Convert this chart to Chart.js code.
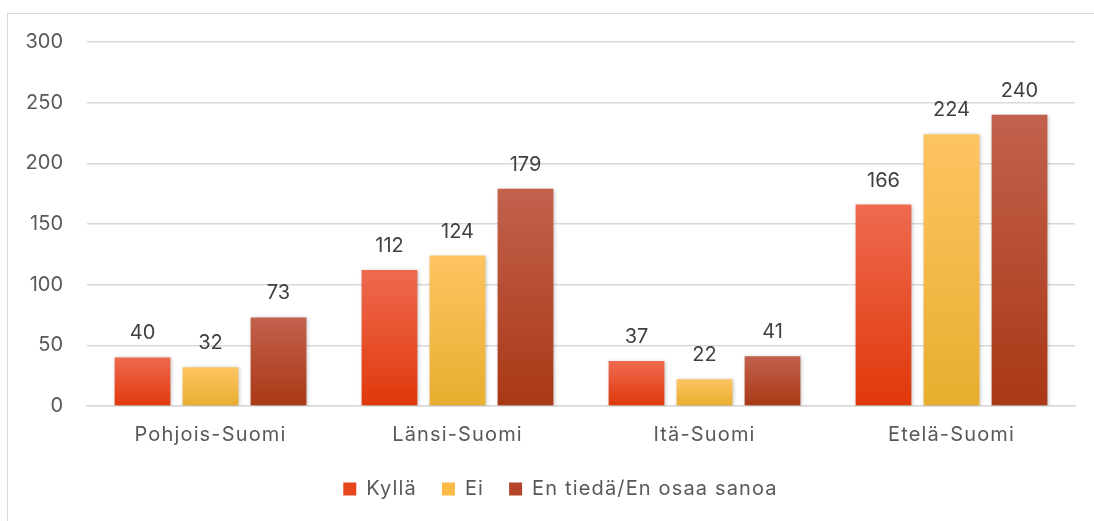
<!DOCTYPE html>
<html>
<head>
<meta charset="utf-8">
<script src="https://cdn.jsdelivr.net/npm/chart.js@4.4.1/dist/chart.umd.min.js"></script>
<style>
  html, body { margin: 0; padding: 0; background: #fff; width: 1094px; height: 521px; overflow: hidden; }
  #frame { position: absolute; left: 7px; top: 13px; width: 1100px; height: 520px;
           border-left: 1.5px solid #D9D9D9; border-top: 1.5px solid #D9D9D9; }
  #wrap { position: absolute; left: 0; top: 0; width: 1094px; height: 521px; }
</style>
</head>
<body>
<div id="frame"></div>
<div id="wrap"><canvas id="c"></canvas></div>
<script>
const categories = ["Pohjois-Suomi", "Länsi-Suomi", "Itä-Suomi", "Etelä-Suomi"];
const seriesNames = ["Kyllä", "Ei", "En tiedä/En osaa sanoa"];
const kylla = [40, 112, 37, 166];
const ei = [32, 124, 22, 224];
const enTieda = [73, 179, 41, 240];
const yTicks = [0, 50, 100, 150, 200, 250, 300];

const FONT = 'Inter, "Liberation Sans", sans-serif';
const SPACING = '1.15px';
const gradStops = [
  ["#EE6A50", "#E0380A"],
  ["#FDC462", "#E8AE2E"],
  ["#C2614D", "#A93815"]
];
const legendColors = ["#E8461F", "#FBBA45", "#B5452A"];

function barGradient(di) {
  return function (ctx) {
    const chart = ctx.chart;
    const area = chart.chartArea;
    if (!area || ctx.type !== 'data') return legendColors[di];
    const y = chart.scales.y;
    const top = y.getPixelForValue(ctx.raw);
    const base = y.getPixelForValue(0);
    const g = chart.ctx.createLinearGradient(0, top, 0, base);
    g.addColorStop(0, gradStops[di][0]);
    g.addColorStop(1, gradStops[di][1]);
    return g;
  };
}

const LEG_PAD = 25, LEG_H = 24, LEG_SHIFT_X = 23;
const tweaks = {
  id: 'tweaks',
  beforeUpdate(chart) { chart.ctx.letterSpacing = SPACING; },
  beforeLayout(chart) {
    const lg = chart.legend;
    if (lg && !lg._patched) {
      const origFit = lg.fit;
      lg.fit = function () { origFit.call(this); this.height = LEG_H; };
      const origDraw = lg.draw;
      lg.draw = function () {
        const saved = [this.top, this.left, this.right];
        this.top -= (LEG_PAD - 2);
        this.left += LEG_SHIFT_X;
        this.right += LEG_SHIFT_X;
        origDraw.call(this);
        [this.top, this.left, this.right] = saved;
      };
      lg._patched = true;
    }
  },
  beforeDraw(chart) {
    chart.ctx.letterSpacing = SPACING;
    const y = chart.scales.y;
    if (y && !y._noSpacing) {
      const orig = y.drawLabels;
      y.drawLabels = function (area) {
        const c = this.ctx;
        const prev = c.letterSpacing;
        c.letterSpacing = '0px';
        orig.call(this, area);
        c.letterSpacing = prev;
      };
      y._noSpacing = true;
    }
  }
};

const valueLabels = {
  id: 'valueLabels',
  afterDatasetsDraw(chart) {
    const ctx = chart.ctx;
    ctx.save();
    ctx.letterSpacing = '0px';
    ctx.font = '20px ' + FONT;
    ctx.fillStyle = '#404040';
    ctx.textAlign = 'center';
    ctx.textBaseline = 'middle';
    chart.data.datasets.forEach((ds, i) => {
      chart.getDatasetMeta(i).data.forEach((bar, j) => {
        ctx.fillText(String(ds.data[j]), bar.x, bar.y - 24);
      });
    });
    ctx.restore();
  }
};

const barShadow = {
  id: 'barShadow',
  beforeDatasetsDraw(chart) {
    const ctx = chart.ctx;
    ctx.save();
    ctx.shadowColor = 'rgba(0,0,0,0.28)';
    ctx.shadowBlur = 4;
    ctx.shadowOffsetX = 1;
    ctx.shadowOffsetY = 1;
  },
  afterDatasetsDraw(chart) {
    chart.ctx.restore();
  }
};

const seriesData = [kylla, ei, enTieda];

new Chart(document.getElementById('c'), {
  type: 'bar',
  data: {
    labels: categories,
    datasets: seriesData.map((d, i) => ({
      label: seriesNames[i],
      data: d,
      backgroundColor: barGradient(i),
      borderWidth: 0,
      barPercentage: 0.82,
      categoryPercentage: 0.826
    }))
  },
  options: {
    responsive: true,
    maintainAspectRatio: false,
    animation: false,
    layout: { padding: { top: 42, right: 19, bottom: 20, left: 0 } },
    plugins: {
      tooltip: { enabled: false },
      legend: {
        position: 'bottom',
        labels: {
          color: '#595959',
          font: { size: 20, family: FONT },
          boxWidth: 13,
          boxHeight: 13,
          padding: LEG_PAD,
          generateLabels(chart) {
            return seriesNames.map((n, i) => ({
              text: n,
              fillStyle: legendColors[i],
              strokeStyle: legendColors[i],
              lineWidth: 0,
              hidden: false,
              datasetIndex: i,
              fontColor: '#595959'
            }));
          }
        }
      }
    },
    scales: {
      x: {
        afterFit(scale) { scale.height = 71; },
        grid: { display: false, drawTicks: false },
        border: { display: true, color: '#D9D9D9', width: 1.5 },
        ticks: {
          color: '#595959',
          padding: 17,
          font: { size: 20, family: FONT }
        }
      },
      y: {
        min: 0,
        max: 300,
        afterFit(scale) { scale.width = 87; },
        afterBuildTicks(scale) { scale.ticks = yTicks.map(v => ({ value: v })); },
        grid: { color: '#D9D9D9', lineWidth: 1.5, drawTicks: false },
        border: { display: false },
        ticks: {
          color: '#595959',
          padding: 24,
          font: { size: 20, family: FONT }
        }
      }
    }
  },
  plugins: [tweaks, barShadow, valueLabels]
});
</script>
</body>
</html>
